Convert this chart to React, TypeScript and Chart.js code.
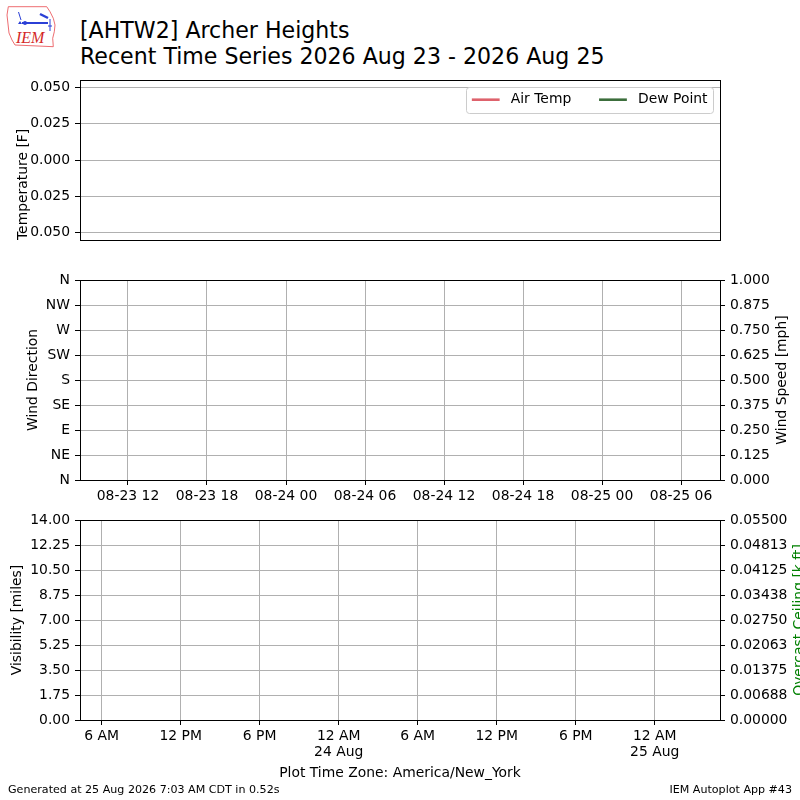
import React, { useEffect, useRef } from "react";
import { Chart, registerables } from "chart.js";

Chart.register(...registerables);

const FAMILY = "'DejaVu Sans', 'Liberation Sans', sans-serif";
Chart.defaults.font.family = FAMILY;
Chart.defaults.color = "#000";

type Pt = { x: number; y: number };

// ---------------- data ----------------
const titleLines = ["[AHTW2] Archer Heights", "Recent Time Series 2026 Aug 23 - 2026 Aug 25"];
const footerLeft = "Generated at 25 Aug 2026 7:03 AM CDT in 0.52s";
const footerRight = "IEM Autoplot App #43";

const seriesNames = ["Air Temp", "Dew Point"];
const airTemp: Pt[] = [];
const dewPoint: Pt[] = [];
const windDirection: Pt[] = [];
const windSpeed: Pt[] = [];
const visibility: Pt[] = [];
const overcastCeiling: Pt[] = [];

// x values: hours after 2026-08-23 00:00 UTC
const timeWindow = [8.355, 56.96];
const utcTickHours = [12, 18, 24, 30, 36, 42, 48, 54];
const utcTickLabels = ["08-23 12", "08-23 18", "08-24 00", "08-24 06", "08-24 12", "08-24 18", "08-25 00", "08-25 06"];
const localTickHours = [10, 16, 22, 28, 34, 40, 46, 52];
const localTickLabels = [["6 AM"], ["12 PM"], ["6 PM"], ["12 AM", "24 Aug"], ["6 AM"], ["12 PM"], ["6 PM"], ["12 AM", "25 Aug"]];

const tempRange = [-0.055, 0.055];
const tempTicks = [-0.05, -0.025, 0, 0.025, 0.05];
const tempTickLabels = ["0.050", "0.025", "0.000", "0.025", "0.050"];

const dirRange = [0, 360];
const dirTicks = [0, 45, 90, 135, 180, 225, 270, 315, 360];
const dirTickLabels = ["N", "NE", "E", "SE", "S", "SW", "W", "NW", "N"];

const speedRange = [0, 1];
const speedTicks = [0, 0.125, 0.25, 0.375, 0.5, 0.625, 0.75, 0.875, 1];
const speedTickLabels = ["0.000", "0.125", "0.250", "0.375", "0.500", "0.625", "0.750", "0.875", "1.000"];

const visRange = [0, 14];
const visTicks = [0, 1.75, 3.5, 5.25, 7, 8.75, 10.5, 12.25, 14];
const visTickLabels = ["0.00", "1.75", "3.50", "5.25", "7.00", "8.75", "10.50", "12.25", "14.00"];

const ceilRange = [0, 0.055];
const ceilTicks = [0, 0.006875, 0.01375, 0.020625, 0.0275, 0.034375, 0.04125, 0.048125, 0.055];
const ceilTickLabels = ["0.00000", "0.00688", "0.01375", "0.02063", "0.02750", "0.03438", "0.04125", "0.04813", "0.05500"];

const axisTitles = {
  temp: "Temperature [F]",
  dir: "Wind Direction",
  speed: "Wind Speed [mph]",
  vis: "Visibility [miles]",
  ceil: "Overcast Ceiling [k ft]",
  zone: "Plot Time Zone: America/New_York",
};

// ---------------- styles ----------------
const seriesColors = ["#de626c", "#3c6e3c"];
const GRID = "#b0b0b0";
const FS = 13.9;
const TICK_FONT = { family: FAMILY, size: FS, lineHeight: 1.2 };

function axis(position: string, range: number[], values: number[], labels: any[], extra: any = {}) {
  const horizontal = position === "bottom";
  return {
    type: "linear",
    position,
    display: extra.display !== false,
    min: range[0],
    max: range[1],
    afterBuildTicks: (s: any) => {
      s.ticks = values.map((v) => ({ value: v }));
    },
    afterFit: (s: any) => {
      if (horizontal) s.height = extra.height;
      else s.width = 80;
    },
    ticks: {
      autoSkip: false,
      maxRotation: 0,
      minRotation: 0,
      padding: horizontal ? 2.7 : 5,
      color: "#000",
      font: TICK_FONT,
      callback: (_v: any, i: number) => labels[i],
    },
    grid: {
      display: true,
      drawOnChartArea: extra.grid !== false,
      color: GRID,
      lineWidth: 1,
      drawTicks: true,
      tickLength: 5,
      tickColor: "#000",
      tickWidth: 1,
    },
    border: { display: false },
    title: extra.title || { display: false },
  };
}

const framePlugin = {
  id: "frame",
  afterDraw(chart: any) {
    const { ctx, chartArea: a } = chart;
    ctx.save();
    ctx.strokeStyle = "#000";
    ctx.lineWidth = 1;
    ctx.strokeRect(Math.round(a.left) + 0.5, Math.round(a.top) + 0.5, Math.round(a.right - a.left), Math.round(a.bottom - a.top));
    ctx.restore();
  },
};

function makeSideTitles(items: any[]) {
  return {
    id: "sideTitles",
    afterDraw(chart: any) {
      const ctx = chart.ctx;
      items.forEach((t) => {
        ctx.save();
        ctx.translate(t.x, t.y);
        ctx.rotate(-Math.PI / 2);
        ctx.font = `${FS}px ${FAMILY}`;
        ctx.fillStyle = t.color;
        ctx.textAlign = "center";
        ctx.textBaseline = "middle";
        ctx.fillText(t.text, 0, 0);
        ctx.restore();
      });
    },
  };
}

const boxLegendPlugin = {
  id: "boxLegend",
  afterDraw(chart: any) {
    const { ctx, chartArea: ca } = chart;
    ctx.save();
    ctx.font = `${FS}px ${FAMILY}`;
    const items = chart.data.datasets.map((d: any) => ({
      label: d.label,
      color: d.borderColor,
      w: ctx.measureText(d.label).width,
    }));
    const pad = 0.4 * FS, handle = 2 * FS, textPad = 0.8 * FS, colSpace = 2 * FS, axesPad = 0.5 * FS;
    const width = 2 * pad + items.reduce((s: number, it: any) => s + handle + textPad + it.w, 0) + colSpace * (items.length - 1);
    const height = 25.5;
    const right = ca.right - axesPad;
    const top = ca.top + axesPad;
    const left = right - width;
    ctx.beginPath();
    if (ctx.roundRect) ctx.roundRect(Math.round(left) + 0.5, Math.round(top) + 0.5, Math.round(width), Math.round(height), 3);
    else ctx.rect(Math.round(left) + 0.5, Math.round(top) + 0.5, Math.round(width), Math.round(height));
    ctx.fillStyle = "rgba(255,255,255,0.8)";
    ctx.fill();
    ctx.strokeStyle = "#cccccc";
    ctx.lineWidth = 1;
    ctx.stroke();
    let x = left + pad;
    const cy = top + height / 2;
    items.forEach((it: any) => {
      ctx.strokeStyle = it.color;
      ctx.lineWidth = 2.6;
      ctx.beginPath();
      ctx.moveTo(x, cy);
      ctx.lineTo(x + handle, cy);
      ctx.stroke();
      x += handle + textPad;
      ctx.fillStyle = "#000";
      ctx.textBaseline = "middle";
      ctx.textAlign = "left";
      ctx.fillText(it.label, x, cy);
      x += it.w + colSpace;
    });
    ctx.restore();
  },
};

const baseOptions = {
  responsive: false,
  animation: false,
  events: [],
};

function buildTempChart(): any {
  return {
    type: "line",
    data: {
      datasets: [
        { label: seriesNames[0], data: airTemp, borderColor: seriesColors[0], borderWidth: 2, pointRadius: 0 },
        { label: seriesNames[1], data: dewPoint, borderColor: seriesColors[1], borderWidth: 2, pointRadius: 0 },
      ],
    },
    options: {
      ...baseOptions,
      layout: { padding: { top: 20, bottom: 20, left: 0, right: 80 } },
      plugins: { legend: { display: false }, tooltip: { enabled: false } },
      scales: {
        x: { type: "linear", display: false, min: timeWindow[0], max: timeWindow[1] },
        y: axis("left", tempRange, tempTicks, tempTickLabels, {
          title: { display: true, text: axisTitles.temp, align: "start", padding: { top: 14.7, bottom: 0 }, font: TICK_FONT, color: "#000" },
        }),
      },
    },
    plugins: [framePlugin, boxLegendPlugin],
  };
}

function buildWindChart(): any {
  return {
    type: "line",
    data: {
      datasets: [
        { label: "Wind Direction", data: windDirection, showLine: false, pointRadius: 2, yAxisID: "y" },
        { label: "Wind Speed", data: windSpeed, borderWidth: 1, pointRadius: 0, yAxisID: "y1" },
      ],
    },
    options: {
      ...baseOptions,
      layout: { padding: { top: 20, bottom: 0, left: 0, right: 0 } },
      plugins: { legend: { display: false }, tooltip: { enabled: false } },
      scales: {
        x: axis("bottom", timeWindow, utcTickHours, utcTickLabels, { height: 30 }),
        y: axis("left", dirRange, dirTicks, dirTickLabels, {
          title: { display: true, text: axisTitles.dir, padding: { top: 24.7, bottom: 0 }, font: TICK_FONT, color: "#000" },
        }),
        y1: axis("right", speedRange, speedTicks, speedTickLabels, { grid: false }),
      },
    },
    plugins: [framePlugin, makeSideTitles([{ text: axisTitles.speed, x: 782, y: 120, color: "#000" }])],
  };
}

function buildVisChart(): any {
  return {
    type: "line",
    data: {
      datasets: [
        { label: "Visibility", data: visibility, borderWidth: 1, pointRadius: 0, yAxisID: "y" },
        { label: "Overcast Ceiling", data: overcastCeiling, borderColor: "#008000", borderWidth: 1, pointRadius: 0, yAxisID: "y1" },
      ],
    },
    options: {
      ...baseOptions,
      layout: { padding: { top: 20, bottom: 18, left: 0, right: 0 } },
      plugins: { legend: { display: false }, tooltip: { enabled: false } },
      scales: {
        x: axis("bottom", timeWindow, localTickHours, localTickLabels, {
          height: 62,
          title: { display: true, text: axisTitles.zone, padding: { top: 0, bottom: 0 }, font: TICK_FONT, color: "#000" },
        }),
        y: axis("left", visRange, visTicks, visTickLabels, {
          title: { display: true, text: axisTitles.vis, padding: { top: 9, bottom: 0 }, font: TICK_FONT, color: "#000" },
        }),
        y1: axis("right", ceilRange, ceilTicks, ceilTickLabels, { grid: false }),
      },
    },
    plugins: [framePlugin, makeSideTitles([{ text: axisTitles.ceil, x: 799.5, y: 120, color: "#008000" }])],
  };
}

function ChartCanvas({ top, height, build }: { top: number; height: number; build: () => any }) {
  const ref = useRef<HTMLCanvasElement>(null);
  useEffect(() => {
    const chart = new Chart(ref.current as HTMLCanvasElement, build());
    return () => chart.destroy();
  }, []);
  return (
    <canvas
      ref={ref}
      width={800}
      height={height}
      style={{ position: "absolute", left: 0, top, width: 800, height }}
    />
  );
}

function Logo() {
  return (
    <svg width={80} height={60} viewBox="0 0 80 60" style={{ position: "absolute", left: 0, top: 0 }}>
      <path
        d="M8.3 6.7 L46.7 6.7 L50 11.7 L53.3 18.3 L55 25 L54.3 31.7 L52.7 38.3 L53.3 46.7 L15 45 L12 40 L9 33 L8 24 L7 15 Z"
        fill="none"
        stroke="#e8484c"
        strokeWidth={0.8}
      />
      <text x={16} y={43} fontFamily="'Liberation Serif', 'DejaVu Serif', serif" fontStyle="italic" fontSize={16} fill="#d42828">
        IEM
      </text>
      <line x1={22} y1={23} x2={48} y2={23} stroke="#2b3fd6" strokeWidth={2} />
      <circle cx={25} cy={23} r={2} fill="#2b3fd6" />
      <path d="M18.5 12 L21 20" stroke="#2b3fd6" strokeWidth={1} fill="none" />
      <path d="M18 24 L20 21 L22 24 Z" fill="#2b3fd6" />
      <path d="M40 14 L48 18" stroke="#2b3fd6" strokeWidth={2.5} fill="none" />
      <path d="M50 19 L50 31 M48 26 L52 26" stroke="#2b3fd6" strokeWidth={1} fill="none" />
    </svg>
  );
}

export default function App() {
  return (
    <div
      style={{
        position: "absolute",
        left: 0,
        top: 0,
        width: 800,
        height: 800,
        background: "#fff",
        overflow: "hidden",
        fontFamily: FAMILY,
        color: "#000",
      }}
    >
      <Logo />
      <div style={{ position: "absolute", left: 80, top: 17, fontSize: 22.1, lineHeight: "26.2px", whiteSpace: "pre" }}>
        {titleLines.map((t) => (
          <div key={t}>{t}</div>
        ))}
      </div>
      <ChartCanvas top={60} height={200} build={buildTempChart} />
      <ChartCanvas top={260} height={250} build={buildWindChart} />
      <ChartCanvas top={500} height={300} build={buildVisChart} />
      <div style={{ position: "absolute", left: 8, top: 783, fontSize: 11.1, lineHeight: "13px", whiteSpace: "pre" }}>
        {footerLeft}
      </div>
      <div style={{ position: "absolute", right: 8, top: 783, fontSize: 11.1, lineHeight: "13px", whiteSpace: "pre" }}>
        {footerRight}
      </div>
    </div>
  );
}
